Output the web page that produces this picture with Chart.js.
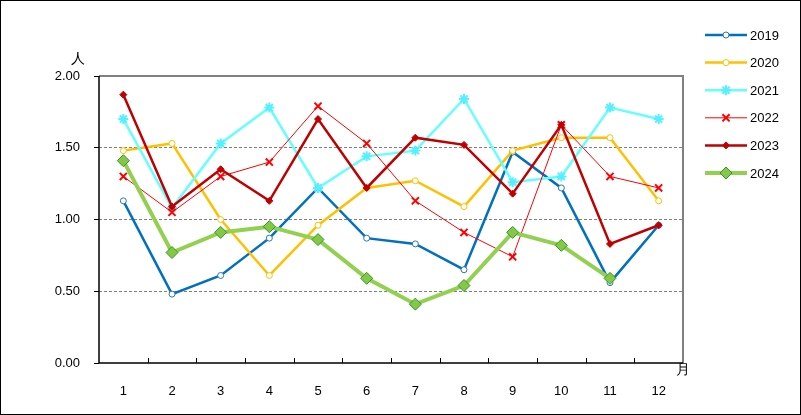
<!DOCTYPE html>
<html>
<head>
<meta charset="utf-8">
<script src="https://cdn.jsdelivr.net/npm/chart.js@4/dist/chart.umd.min.js"></script>
<style>
  html, body { margin: 0; padding: 0; background: #fff; }
  #wrap { width: 801px; height: 415px; }
</style>
</head>
<body>
<div id="wrap"><canvas id="canvas" width="801" height="415"></canvas></div>
<script>
const ctx = document.getElementById("canvas");

// months on the x axis
const months = ["1", "2", "3", "4", "5", "6", "7", "8", "9", "10", "11", "12"];
const yearLabels = ["2019", "2020", "2021", "2022", "2023", "2024"];

// values (persons)
const v2019 = [1.13, 0.48, 0.61, 0.87, 1.22, 0.87, 0.83, 0.65, 1.47, 1.22, 0.56, 0.96];
const v2020 = [1.48, 1.53, 1.00, 0.61, 0.96, 1.22, 1.27, 1.09, 1.48, 1.57, 1.57, 1.13];
const v2021 = [1.70, 1.08, 1.53, 1.78, 1.22, 1.44, 1.48, 1.84, 1.26, 1.30, 1.78, 1.70];
const v2022 = [1.30, 1.05, 1.30, 1.40, 1.79, 1.53, 1.13, 0.91, 0.74, 1.66, 1.30, 1.22];
const v2023 = [1.87, 1.09, 1.35, 1.13, 1.70, 1.22, 1.57, 1.52, 1.18, 1.66, 0.83, 0.96];
const v2024 = [1.41, 0.77, 0.91, 0.95, 0.86, 0.59, 0.41, 0.54, 0.91, 0.82, 0.59, null];

const FONT = "'Liberation Sans', Arial, sans-serif";

const styles = [
  { color: "#0070C0", width: 2.5, point: "circle", radius: 3, fill: "#ffffff", stroke: "#2E75B6", pw: 1 },
  { color: "#FFC000", width: 2.5, point: "circle", radius: 3, fill: "#ffffff", stroke: "#FFC000", pw: 1 },
  { color: "#66FFFF", width: 2.5, point: "star", radius: 5, fill: "#66FFFF", stroke: "#55F0FF", pw: 2 },
  { color: "#FF0000", width: 1, point: "crossRot", radius: 5, fill: "#FF0000", stroke: "#FF0000", pw: 2 },
  { color: "#C00000", width: 2.5, point: "rectRot", radius: 3.5, fill: "#C00000", stroke: "#C00000", pw: 1 },
  { color: "#92D050", width: 4, point: "rectRot", radius: 6, fill: "#86C846", stroke: "#2E9A2E", pw: 1 },
];

const series = [v2019, v2020, v2021, v2022, v2023, v2024];

const datasets = series.map((vals, i) => ({
  label: yearLabels[i],
  data: vals,
  borderColor: styles[i].color,
  borderWidth: styles[i].width,
  pointStyle: styles[i].point,
  pointRadius: styles[i].radius,
  pointBackgroundColor: styles[i].fill,
  pointBorderColor: styles[i].stroke,
  pointBorderWidth: styles[i].pw,
  tension: 0,
  order: 5 - i,
}));

// frame, inner x ticks, unit labels and legend
const decorations = {
  id: "decorations",
  afterDraw(chart) {
    const { ctx, chartArea: { left, right, top, bottom }, scales } = chart;
    ctx.save();
    // top / right gray border
    ctx.strokeStyle = "#808080";
    ctx.lineWidth = 2;
    ctx.beginPath();
    ctx.moveTo(left, top);
    ctx.lineTo(right, top);
    ctx.lineTo(right, bottom);
    ctx.stroke();
    // left / bottom black axes
    ctx.strokeStyle = "#000";
    ctx.lineWidth = 1.5;
    ctx.beginPath();
    ctx.moveTo(left, top);
    ctx.lineTo(left, bottom);
    ctx.lineTo(right, bottom);
    ctx.stroke();
    // x tick marks pointing inward between months
    ctx.lineWidth = 1;
    ctx.beginPath();
    for (let i = 1; i < months.length; i++) {
      const x = Math.round(scales.x.getPixelForValue(i - 0.5)) + 0.5;
      ctx.moveTo(x, bottom);
      ctx.lineTo(x, bottom - 5);
    }
    ctx.stroke();

    ctx.fillStyle = "#000";
    ctx.font = "14px " + FONT;
    ctx.textAlign = "center";
    ctx.textBaseline = "middle";
    ctx.fillText("人", 78, 59);
    ctx.fillText("月", 683, 370);

    // legend
    ctx.font = "13px " + FONT;
    ctx.textAlign = "left";
    chart.data.datasets.forEach((ds, i) => {
      const y = 35 + i * 27.6;
      ctx.strokeStyle = ds.borderColor;
      ctx.lineWidth = ds.borderWidth;
      ctx.beginPath();
      ctx.moveTo(705, y);
      ctx.lineTo(747, y);
      ctx.stroke();
      ctx.fillStyle = ds.pointBackgroundColor;
      ctx.strokeStyle = ds.pointBorderColor;
      ctx.lineWidth = ds.pointBorderWidth;
      Chart.helpers.drawPoint(ctx, { pointStyle: ds.pointStyle, radius: ds.pointRadius, borderWidth: ds.pointBorderWidth, rotation: 0 }, 726, y);
      ctx.fillStyle = "#000";
      ctx.fillText(ds.label, 750, y + 1);
    });

    // outer frame
    ctx.strokeStyle = "#000";
    ctx.lineWidth = 1;
    ctx.strokeRect(0.5, 0.5, 800, 414);
    ctx.restore();
  },
};

new Chart(ctx, {
  type: "line",
  data: { labels: months, datasets: datasets },
  plugins: [decorations],
  options: {
    responsive: false,
    animation: false,
    layout: { padding: { left: 0, right: 118, top: 76, bottom: 0 } },
    plugins: {
      legend: { display: false },
      tooltip: { enabled: false },
    },
    scales: {
      x: {
        offset: true,
        afterFit: (s) => { s.height = 52; },
        grid: { display: false },
        border: { display: false },
        ticks: {
          color: "#000",
          padding: 13,
          maxRotation: 0,
          font: { family: FONT, size: 13 },
        },
      },
      y: {
        min: 0,
        max: 2,
        afterFit: (s) => { s.width = 99; },
        border: { display: false, dash: [3, 2] },
        grid: {
          drawTicks: true,
          tickLength: 5,
          tickColor: "#000",
          tickBorderDash: [],
          color: (c) => (c.tick && (c.tick.value === 0 || c.tick.value === 2) ? "rgba(0,0,0,0)" : "#808080"),
          lineWidth: 1,
        },
        ticks: {
          stepSize: 0.5,
          color: "#000",
          padding: 14,
          font: { family: FONT, size: 13 },
          callback: (v) => Number(v).toFixed(2),
        },
      },
    },
  },
});
</script>
</body>
</html>
